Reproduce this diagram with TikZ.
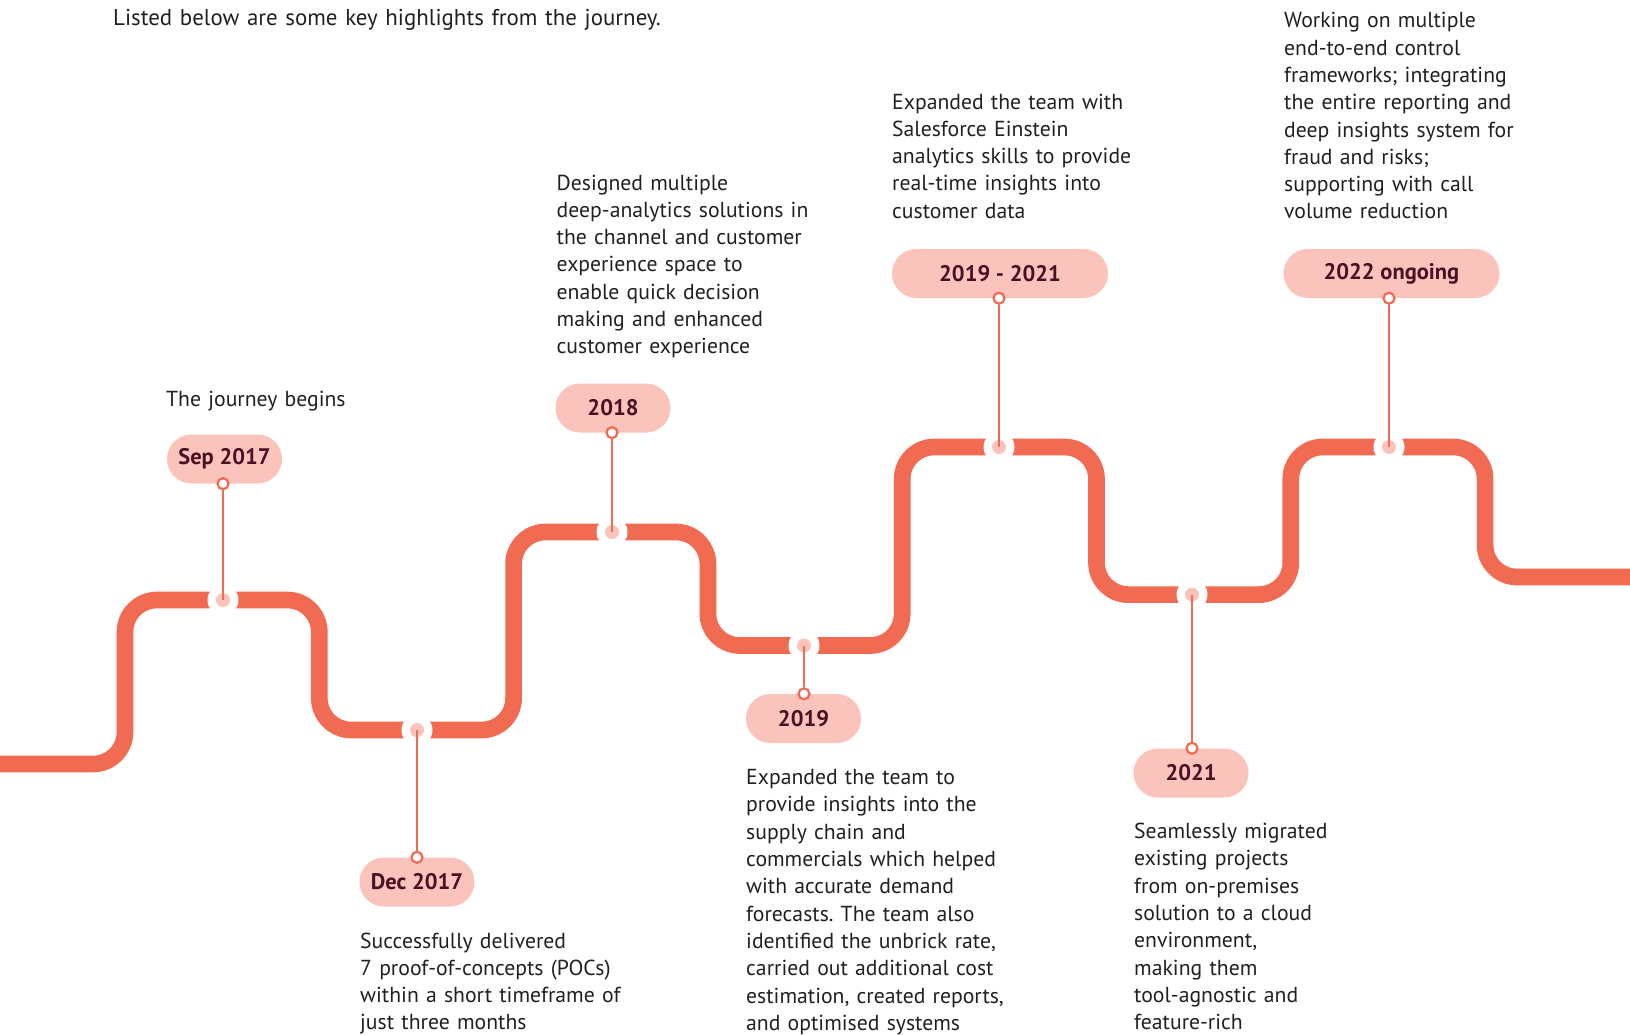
\documentclass[tikz,border=0pt]{standalone}
\usepackage{fontspec}
\setmainfont{PT Sans}
\definecolor{trackc}{RGB}{241,106,82}
\definecolor{pinkc}{RGB}{250,195,188}
\definecolor{labelc}{RGB}{74,17,36}
\definecolor{textc}{RGB}{35,31,32}
\begin{document}
\frenchspacing
\begin{tikzpicture}[x=1pt,y=-1pt,
  track/.style={draw=trackc, line width=16.7pt, rounded corners=32pt},
  gapm/.style={circle, fill=white, minimum size=31pt, inner sep=0pt},
  dotm/.style={circle, fill=pinkc, minimum size=14pt, inner sep=0pt},
  pill/.style={rectangle, fill=pinkc, rounded corners=24.4pt, minimum width=115pt, minimum height=49pt, inner sep=0pt, text=labelc, font=\fontsize{22.5}{26}\selectfont\bfseries},
  widepill/.style={pill, minimum width=216pt},
  ringm/.style={circle, draw=trackc, fill=white, line width=2.2pt, minimum size=11pt, inner sep=0pt},
  stem/.style={draw=trackc, line width=2.5pt},
  body/.style={anchor=base west, inner sep=0pt, text width=700pt, align=left, text=textc, font=\fontsize{21.7}{27.3}\selectfont},
  headtext/.style={body, font=\fontsize{22.9}{27.3}\selectfont}
]
\useasboundingbox (0,0) rectangle (1630,1034);

% track
\draw[track] (0,764) -- (125,764) -- (125,600) -- (319.3,600) -- (319.3,730) -- (513.6,730) -- (513.6,532) -- (707.9,532) -- (707.9,645.5) -- (902.2,645.5) -- (902.2,447) -- (1096.5,447) -- (1096.5,594.6) -- (1290.8,594.6) -- (1290.8,447) -- (1485.1,447) -- (1485.1,577) -- (1630,577);

% pills
\node[pill] (p1) at (224.5,459) {Sep 2017};
\node[pill] (p2) at (417,882) {Dec 2017};
\node[pill] (p3) at (613,408) {2018};
\node[pill] (p4) at (803.5,718.5) {2019};
\node[widepill] (p5) at (1000,273.5) {2019 - 2021};
\node[pill] (p6) at (1191,773) {2021};
\node[widepill] (p7) at (1391.5,273.5) {2022 ongoing};

% dots on the track
\foreach \n/\x/\y in {1/223/600, 2/417/730, 3/612/532, 4/804/645.5, 5/999/447, 6/1192/594.6, 7/1389/447}{
  \node[gapm] (g\n) at (\x,\y) {};
  \node[dotm] (d\n) at (\x,\y) {};
}

% rings at pill edges
\node[ringm] (r1) at (d1 |- p1.south) {};
\node[ringm] (r2) at (d2 |- p2.north) {};
\node[ringm] (r3) at (d3 |- p3.south) {};
\node[ringm] (r4) at (d4 |- p4.north) {};
\node[ringm] (r5) at (d5 |- p5.south) {};
\node[ringm] (r6) at (d6 |- p6.north) {};
\node[ringm] (r7) at (d7 |- p7.south) {};

% stems
\foreach \n in {1,...,7}{
  \draw[stem] (r\n) -- (d\n.center);
}

% texts
\node[headtext] (hdr) at (113,25) {Listed below are some key highlights from the journey.};
\node[body] (t1) at (166,406) {The journey begins};
\node[body] (t2) at (360,948) {Successfully delivered\\7 proof-of-concepts (POCs)\\within a short timeframe of\\just three months};
\node[body] (t3) at (556.5,190) {Designed multiple\\deep-analytics solutions in\\the channel and customer\\experience space to\\enable quick decision\\making and enhanced\\customer experience};
\node[body] (t4) at (746,784.6) {Expanded the team to\\provide insights into the\\supply chain and\\commercials which helped\\with accurate demand\\forecasts. The team also\\identified the unbrick rate,\\carried out additional cost\\estimation, created reports,\\and optimised systems};
\node[body] (t5) at (892,109) {Expanded the team with\\Salesforce Einstein\\analytics skills to provide\\real-time insights into\\customer data};
\node[body] (t6) at (1134,838.6) {Seamlessly migrated\\existing projects\\from on-premises\\solution to a cloud\\environment,\\making them\\tool-agnostic and\\feature-rich};
\node[body] (t7) at (1284,27.8) {Working on multiple\\end-to-end control\\frameworks; integrating\\the entire reporting and\\deep insights system for\\fraud and risks;\\supporting with call\\volume reduction};
\end{tikzpicture}
\end{document}
